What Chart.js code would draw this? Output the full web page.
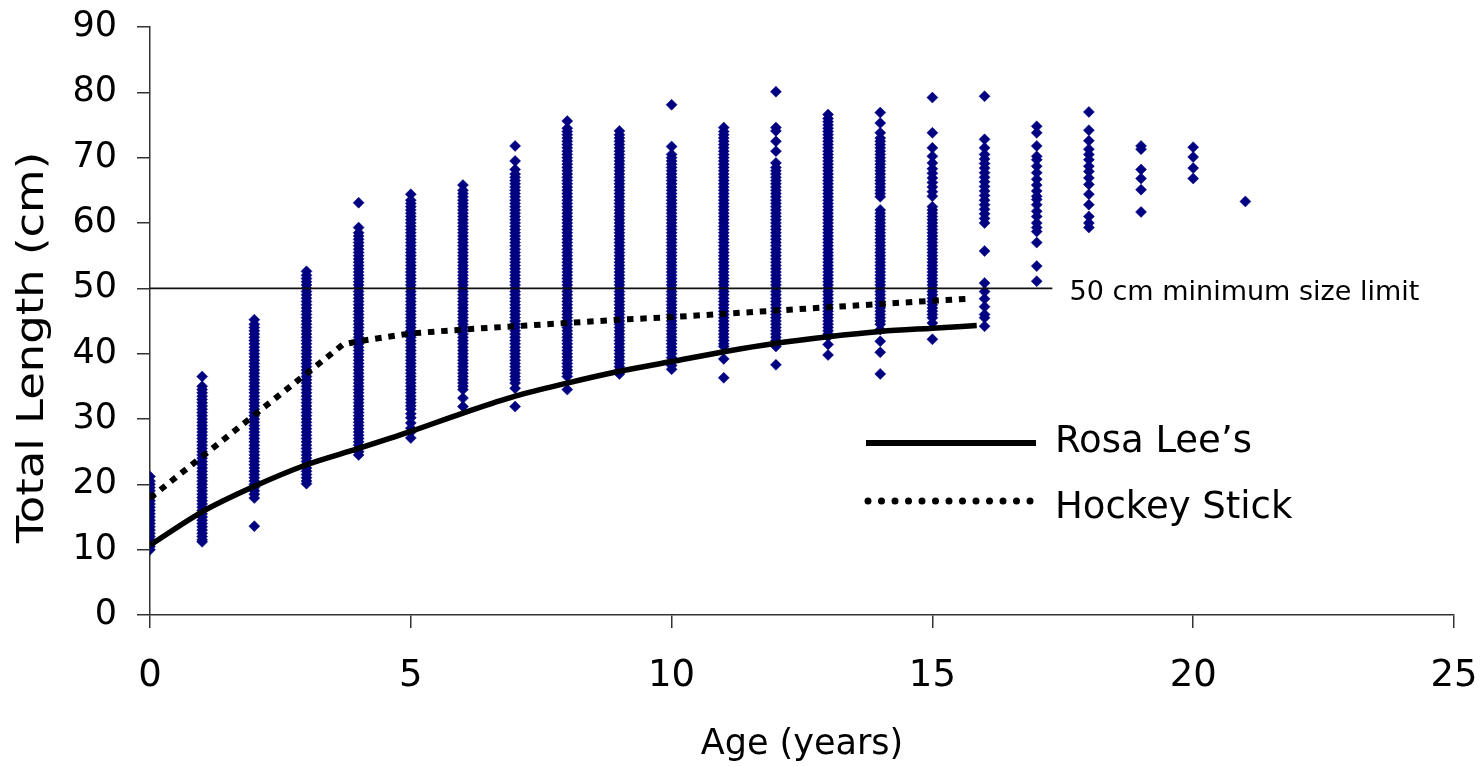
<!DOCTYPE html>
<html>
<head>
<meta charset="utf-8">
<script src="https://cdn.jsdelivr.net/npm/chart.js@4/dist/chart.umd.min.js"></script>
<style>
  body { margin: 0; background: #fff; }
  canvas { display: block; }
</style>
</head>
<body>
<canvas id="myChart" width="1481" height="766"></canvas>
<script>
// ====== DATA ========
const ages = [0, 1, 2, 3, 4, 5, 6, 7, 8, 9, 10, 11, 12, 13, 14, 15, 16, 17, 18, 19, 20, 21];

// total length (cm) of the fish
const len0 = [10, 10.5, 11, 11.5, 12, 12.5, 13, 13.5, 14, 14.5, 15, 15.5, 16, 16.5, 17, 17.5, 18, 18.5, 19, 19.5, 20, 20.5, 21.2];
const len1 = [11.2, 11.5, 12, 12.5, 13, 13.5, 14, 14.5, 15, 15.5, 16, 16.5, 17, 17.5, 18, 18.5, 19, 19.5, 20, 20.5, 21, 21.5, 22, 22.5, 23, 23.5, 24, 24.5, 25, 25.5, 26, 26.5, 27, 27.5, 28, 28.5, 29, 29.5, 30, 30.5, 31, 31.5, 32, 32.5, 33, 33.5, 34, 34.5, 35, 36.5];
const len2 = [13.6, 17.9, 18.5, 19, 19.5, 20, 20.5, 21, 21.5, 22, 22.5, 23, 23.5, 24, 24.5, 25, 25.5, 26, 26.5, 27, 27.5, 28, 28.5, 29, 29.5, 30, 30.5, 31, 31.5, 32, 32.5, 33, 33.5, 34, 34.5, 35, 35.5, 36, 36.5, 37, 37.5, 38, 38.5, 39, 39.5, 40, 40.5, 41, 41.5, 42, 42.5, 43, 43.5, 44, 44.5, 45.2];
const len3 = [20.1, 20.5, 21, 21.5, 22, 22.5, 23, 23.5, 24, 24.5, 25, 25.5, 26, 26.5, 27, 27.5, 28, 28.5, 29, 29.5, 30, 30.5, 31, 31.5, 32, 32.5, 33, 33.5, 34, 34.5, 35, 35.5, 36, 36.5, 37, 37.5, 38, 38.5, 39, 39.5, 40, 40.5, 41, 41.5, 42, 42.5, 43, 43.5, 44, 44.5, 45, 45.5, 46, 46.5, 47, 47.5, 48, 48.5, 49, 49.5, 50, 50.5, 51, 51.5, 52, 52.6];
const len4 = [24.5, 25, 25.5, 26, 26.5, 27, 27.5, 28, 28.5, 29, 29.5, 30, 30.5, 31, 31.5, 32, 32.5, 33, 33.5, 34, 34.5, 35, 35.5, 36, 36.5, 37, 37.5, 38, 38.5, 39, 39.5, 40, 40.5, 41, 41.5, 42, 42.5, 43, 43.5, 44, 44.5, 45, 45.5, 46, 46.5, 47, 47.5, 48, 48.5, 49, 49.5, 50, 50.5, 51, 51.5, 52, 52.5, 53, 53.5, 54, 54.5, 55, 55.5, 56, 56.5, 57, 57.5, 58, 58.5, 59.3, 63.1];
const len5 = [27.1, 28, 28.6, 29.4, 30.2, 30.8, 31.5, 32, 32.5, 33, 33.5, 34, 34.5, 35, 35.5, 36, 36.5, 37, 37.5, 38, 38.5, 39, 39.5, 40, 40.5, 41, 41.5, 42, 42.5, 43, 43.5, 44, 44.5, 45, 45.5, 46, 46.5, 47, 47.5, 48, 48.5, 49, 49.5, 50, 50.5, 51, 51.5, 52, 52.5, 53, 53.5, 54, 54.5, 55, 55.5, 56, 56.5, 57, 57.5, 58, 58.5, 59, 59.5, 60, 60.5, 61, 61.5, 62, 62.5, 63, 63.5, 64.4];
const len6 = [31.9, 33.2, 34.5, 35, 35.5, 36, 36.5, 37, 37.5, 38, 38.5, 39, 39.5, 40, 40.5, 41, 41.5, 42, 42.5, 43, 43.5, 44, 44.5, 45, 45.5, 46, 46.5, 47, 47.5, 48, 48.5, 49, 49.5, 50, 50.5, 51, 51.5, 52, 52.5, 53, 53.5, 54, 54.5, 55, 55.5, 56, 56.5, 57, 57.5, 58, 58.5, 59, 59.5, 60, 60.5, 61, 61.5, 62, 62.5, 63, 63.5, 64, 64.5, 65, 65.8];
const len7 = [31.9, 34.7, 35.5, 36, 36.5, 37, 37.5, 38, 38.5, 39, 39.5, 40, 40.5, 41, 41.5, 42, 42.5, 43, 43.5, 44, 44.5, 45, 45.5, 46, 46.5, 47, 47.5, 48, 48.5, 49, 49.5, 50, 50.5, 51, 51.5, 52, 52.5, 53, 53.5, 54, 54.5, 55, 55.5, 56, 56.5, 57, 57.5, 58, 58.5, 59, 59.5, 60, 60.5, 61, 61.5, 62, 62.5, 63, 63.5, 64, 64.5, 65, 65.5, 66, 66.5, 67, 67.5, 68.2, 69.5, 71.8];
const len8 = [34.5, 36.5, 37, 37.5, 38, 38.5, 39, 39.5, 40, 40.5, 41, 41.5, 42, 42.5, 43, 43.5, 44, 44.5, 45, 45.5, 46, 46.5, 47, 47.5, 48, 48.5, 49, 49.5, 50, 50.5, 51, 51.5, 52, 52.5, 53, 53.5, 54, 54.5, 55, 55.5, 56, 56.5, 57, 57.5, 58, 58.5, 59, 59.5, 60, 60.5, 61, 61.5, 62, 62.5, 63, 63.5, 64, 64.5, 65, 65.5, 66, 66.5, 67, 67.5, 68, 68.5, 69, 69.5, 70, 70.5, 71, 71.5, 72, 72.5, 73, 73.5, 74, 74.5, 75.6];
const len9 = [36.9, 37.5, 38, 38.5, 39, 39.5, 40, 40.5, 41, 41.5, 42, 42.5, 43, 43.5, 44, 44.5, 45, 45.5, 46, 46.5, 47, 47.5, 48, 48.5, 49, 49.5, 50, 50.5, 51, 51.5, 52, 52.5, 53, 53.5, 54, 54.5, 55, 55.5, 56, 56.5, 57, 57.5, 58, 58.5, 59, 59.5, 60, 60.5, 61, 61.5, 62, 62.5, 63, 63.5, 64, 64.5, 65, 65.5, 66, 66.5, 67, 67.5, 68, 68.5, 69, 69.5, 70, 70.5, 71, 71.5, 72, 72.5, 73, 73.5, 74.1];
const len10 = [37.6, 38.2, 38.8, 39.4, 40, 40.5, 41, 41.5, 42, 42.5, 43, 43.5, 44, 44.5, 45, 45.5, 46, 46.5, 47, 47.5, 48, 48.5, 49, 49.5, 50, 50.5, 51, 51.5, 52, 52.5, 53, 53.5, 54, 54.5, 55, 55.5, 56, 56.5, 57, 57.5, 58, 58.5, 59, 59.5, 60, 60.5, 61, 61.5, 62, 62.5, 63, 63.5, 64, 64.5, 65, 65.5, 66, 66.5, 67, 67.5, 68, 68.5, 69, 69.5, 70, 70.5, 71.7, 78.1];
const len11 = [36.3, 39.2, 41.1, 41.5, 42, 42.5, 43, 43.5, 44, 44.5, 45, 45.5, 46, 46.5, 47, 47.5, 48, 48.5, 49, 49.5, 50, 50.5, 51, 51.5, 52, 52.5, 53, 53.5, 54, 54.5, 55, 55.5, 56, 56.5, 57, 57.5, 58, 58.5, 59, 59.5, 60, 60.5, 61, 61.5, 62, 62.5, 63, 63.5, 64, 64.5, 65, 65.5, 66, 66.5, 67, 67.5, 68, 68.5, 69, 69.5, 70, 70.5, 71, 71.5, 72, 72.5, 73, 73.5, 74, 74.6];
const len12 = [38.3, 41.1, 41.5, 42, 42.5, 43, 43.5, 44, 44.5, 45, 45.5, 46, 46.5, 47, 47.5, 48, 48.5, 49, 49.5, 50, 50.5, 51, 51.5, 52, 52.5, 53, 53.5, 54, 54.5, 55, 55.5, 56, 56.5, 57, 57.5, 58, 58.5, 59, 59.5, 60, 60.5, 61, 61.5, 62, 62.5, 63, 63.5, 64, 64.5, 65, 65.5, 66, 66.5, 67, 67.5, 68, 68.5, 69.2, 71.0, 72.5, 74.1, 74.6, 80.1];
const len13 = [39.8, 41.4, 42.6, 43, 43.5, 44, 44.5, 45, 45.5, 46, 46.5, 47, 47.5, 48, 48.5, 49, 49.5, 50, 50.5, 51, 51.5, 52, 52.5, 53, 53.5, 54, 54.5, 55, 55.5, 56, 56.5, 57, 57.5, 58, 58.5, 59, 59.5, 60, 60.5, 61, 61.5, 62, 62.5, 63, 63.5, 64, 64.5, 65, 65.5, 66, 66.5, 67, 67.5, 68, 68.5, 69, 69.5, 70, 70.5, 71, 71.5, 72, 72.5, 73, 73.5, 74, 74.5, 75, 75.5, 76, 76.6];
const len14 = [36.9, 40.2, 41.9, 43.7, 44.5, 45, 45.5, 46, 46.5, 47, 47.5, 48, 48.5, 49, 49.5, 50, 50.5, 51, 51.5, 52, 52.5, 53, 53.5, 54, 54.5, 55, 55.5, 56, 56.5, 57, 57.5, 58, 58.5, 59, 59.5, 60, 60.5, 61, 61.5, 62, 64, 64.5, 65, 65.5, 66, 66.5, 67, 67.5, 68, 68.5, 69, 69.5, 70, 70.5, 71, 71.5, 72, 72.5, 73, 73.8, 75.3, 76.9];
const len15 = [42.2, 44.7, 45.5, 46, 46.5, 47, 47.5, 48, 48.5, 49, 49.5, 50, 50.5, 51, 51.5, 52, 52.5, 53, 53.5, 54, 54.5, 55, 55.5, 56, 56.5, 57, 57.5, 58, 58.5, 59, 59.5, 60, 60.5, 61, 61.5, 62, 62.5, 64.1, 64.8, 65.5, 66.2, 66.9, 67.6, 68.3, 69.2, 70.2, 71.5, 73.8, 79.2];
const len16 = [44.2, 45.5, 46.0, 47.2, 48.4, 49.5, 50.8, 55.7, 60.0, 60.7, 61.4, 62.1, 62.8, 63.5, 64.2, 64.9, 65.6, 66.3, 67.0, 67.7, 68.4, 69.1, 69.8, 70.5, 71.5, 72.8, 79.4];
const len17 = [51.1, 53.4, 57.0, 58.7, 59.3, 60.0, 61.0, 61.8, 62.8, 63.6, 64.1, 64.9, 65.8, 66.7, 67.7, 68.7, 69.7, 70.2, 71.8, 73.8, 74.8];
const len18 = [59.3, 60.0, 61.0, 62.8, 64.4, 65.9, 66.9, 67.9, 68.7, 69.7, 70.5, 71.3, 72.6, 74.2, 77.0];
const len19 = [61.7, 65.1, 66.8, 68.2, 71.3, 71.8];
const len20 = [66.8, 68.4, 70.1, 71.6];
const len21 = [63.3];
const lengthsByAge = [len0, len1, len2, len3, len4, len5, len6, len7, len8, len9, len10,
  len11, len12, len13, len14, len15, len16, len17, len18, len19, len20, len21];

// growth curves
const rosaAge = [0, 1, 2, 3, 4, 5, 6, 7, 8, 9, 10, 11, 12, 13, 14, 15, 15.85];
const rosaLen = [10.7, 15.8, 19.7, 23.0, 25.5, 28.1, 30.9, 33.5, 35.5, 37.3, 38.8, 40.3, 41.6, 42.6, 43.4, 43.9, 44.3];
const hockeyAge = [0, 3.7, 4, 5, 6, 7, 8, 9, 10, 11, 12, 13, 14, 15, 15.7];
const hockeyLen = [17.9, 41.4, 41.9, 43.1, 43.7, 44.2, 44.7, 45.2, 45.6, 46.1, 46.6, 47.1, 47.6, 48.1, 48.4];

// minimum size limit line
const limitAge = [0, 17.3];
const limitLen = [50, 50];
const limitLabel = "50 cm minimum size limit";

const xTicks = [0, 5, 10, 15, 20, 25];
const yTicks = [0, 10, 20, 30, 40, 50, 60, 70, 80, 90];

const FONT = "'DejaVu Sans', 'Liberation Sans', Arial, sans-serif";
const AXIS = "#333";

// ====== PLUGIN: limit label, y title, legend ========
const extrasPlugin = {
  id: "extras",
  afterDatasetsDraw(chart) {
    const ctx = chart.ctx;
    const xs = chart.scales.x, ys = chart.scales.y;
    ctx.save();
    ctx.fillStyle = "#000";
    ctx.textAlign = "left";
    ctx.textBaseline = "alphabetic";
    ctx.font = "27px " + FONT;
    ctx.fillText(limitLabel, xs.getPixelForValue(17.63), ys.getPixelForValue(50) + 12);

    // y axis title, stretched a little along its length like the original
    ctx.save();
    ctx.translate(43, 543);
    ctx.rotate(-Math.PI / 2);
    ctx.scale(1.18, 1);
    ctx.font = "38px " + FONT;
    ctx.fillText("Total Length (cm)", 0, 0);
    ctx.restore();

    // legend
    ctx.strokeStyle = "#000";
    ctx.lineWidth = 6;
    ctx.lineCap = "butt";
    ctx.beginPath();
    ctx.moveTo(866, 443);
    ctx.lineTo(1036, 443);
    ctx.stroke();

    ctx.lineWidth = 7;
    ctx.lineCap = "round";
    ctx.setLineDash([0, 13.5]);
    ctx.beginPath();
    ctx.moveTo(868, 501);
    ctx.lineTo(1031, 501);
    ctx.stroke();
    ctx.setLineDash([]);

    ctx.font = "37px " + FONT;
    ctx.fillText("Rosa Lee\u2019s", 1055, 452);
    ctx.fillText("Hockey Stick", 1055, 518);
    ctx.restore();
  }
};

function createChart() {
  const points = [];
  ages.forEach(function (a, i) {
    lengthsByAge[i].forEach(function (v) { points.push({ x: a, y: v }); });
  });

  new Chart(document.getElementById("myChart"), {
    type: "scatter",
    data: {
      datasets: [
        {
          label: "Rosa Lee\u2019s",
          data: rosaAge.map((a, i) => ({ x: a, y: rosaLen[i] })),
          showLine: true,
          borderColor: "#000",
          borderWidth: 5.5,
          pointRadius: 0,
          cubicInterpolationMode: "monotone",
          order: 1,
        },
        {
          label: "Hockey Stick",
          data: hockeyAge.map((a, i) => ({ x: a, y: hockeyLen[i] })),
          showLine: true,
          borderColor: "#000",
          borderWidth: 6,
          borderDash: [6.5, 6.8],
          borderCapStyle: "butt",
          pointRadius: 0,
          tension: 0,
          order: 2,
        },
        {
          label: "limit",
          data: limitAge.map((a, i) => ({ x: a, y: limitLen[i] })),
          showLine: true,
          borderColor: "#111",
          borderWidth: 1.6,
          pointRadius: 0,
          order: 3,
        },
        {
          label: "Fish",
          data: points,
          pointStyle: "rectRot",
          pointRadius: 5.5,
          pointBorderWidth: 0.5,
          backgroundColor: "#000080",
          borderColor: "#000080",
          order: 4,
        },
      ],
    },
    options: {
      responsive: false,
      animation: false,
      layout: { padding: { top: 27, right: 27, left: 0, bottom: 0 } },
      plugins: { legend: { display: false }, tooltip: { enabled: false } },
      scales: {
        x: {
          type: "linear",
          min: 0,
          max: 25,
          afterBuildTicks: (s) => { s.ticks = xTicks.map((v) => ({ value: v })); },
          afterFit: (s) => { s.height = 151; s.paddingLeft = 0; s.paddingRight = 0; },
          ticks: { font: { family: FONT, size: 37 }, color: "#000", padding: 26, maxRotation: 0 },
          grid: { drawOnChartArea: false, drawTicks: true, tickLength: 13, color: AXIS, lineWidth: 1.5 },
          border: { display: true, color: AXIS, width: 1.5 },
          title: { display: true, text: "Age (years)", color: "#000", font: { family: FONT, size: 35 }, padding: { top: 0, bottom: 0 } },
        },
        y: {
          type: "linear",
          min: 0,
          max: 90,
          afterBuildTicks: (s) => { s.ticks = yTicks.map((v) => ({ value: v })); },
          afterFit: (s) => { s.width = 150; s.paddingTop = 0; s.paddingBottom = 0; },
          ticks: { font: { family: FONT, size: 35 }, color: "#000", padding: 20 },
          grid: { drawOnChartArea: false, drawTicks: true, tickLength: 13, color: AXIS, lineWidth: 1.5 },
          border: { display: true, color: AXIS, width: 1.5 },
          title: { display: false },
        },
      },
    },
    plugins: [extrasPlugin],
  });
}

document.addEventListener("DOMContentLoaded", createChart);
</script>
</body>
</html>
